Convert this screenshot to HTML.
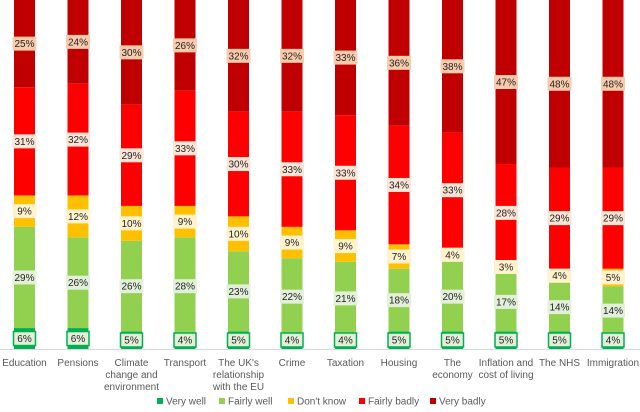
<!DOCTYPE html>
<html><head><meta charset="utf-8"><style>
body{margin:0;background:#fff;font-family:"Liberation Sans",sans-serif}
svg{display:block}
</style></head><body>
<svg id="chart" width="640" height="412"></svg>
<script>
const categories=[["Education"],["Pensions"],["Climate","change and","environment"],["Transport"],["The UK's","relationship","with the EU"],["Crime"],["Taxation"],["Housing"],["The","economy"],["Inflation and","cost of living"],["The NHS"],["Immigration"]];
const veryWell=[6,6,5,4,5,4,4,5,5,5,5,4];
const fairlyWell=[29,26,26,28,23,22,21,18,20,17,14,14];
const dontKnow=[9,12,10,9,10,9,9,7,4,3,4,5];
const fairlyBadly=[31,32,29,33,30,33,33,34,33,28,29,29];
const veryBadly=[25,24,30,26,32,32,33,36,38,47,48,48];
const seriesNames=["Very well","Fairly well","Don't know","Fairly badly","Very badly"];
const series=[veryWell,fairlyWell,dontKnow,fairlyBadly,veryBadly];
const colors=["#00b050","#92d050","#ffc000","#ff0000","#c00000"];
const labelFill=["#e2f0d9","#e2f0d9","#fff2cc","#fbe5d6","#f8cbad"];
const svg=document.getElementById('chart');
const NS="http://www.w3.org/2000/svg";
const baseY=349, plotH=349, x0=24.5, step=53.5, bw=21;
function xPos(i){return x0+i*step;}
function yScale(v){return baseY-v/100*plotH;}
function mk(t,a){const e=document.createElementNS(NS,t);for(const k in a)e.setAttribute(k,a[k]);svg.appendChild(e);return e;}
const labels=[];
categories.forEach((c,i)=>{
  let cum=0;
  series.forEach((s,j)=>{
    const v=s[i];
    const y1=yScale(cum+v), y0=yScale(cum);
    const r=mk('rect',{x:xPos(i)-bw/2,y:y1,width:bw,height:y0-y1,fill:colors[j]});
    
    
    labels.push({i,j,v,cy:(y0+y1)/2,y0});
    cum+=v;
  });
  c.forEach((line,k)=>{
    const t=mk('text',{x:xPos(i),y:366+k*12,'text-anchor':'middle','font-size':'10',fill:'#595959'});
    t.textContent=line;
    
    
  });
});
labels.forEach(L=>{
  let cy=L.cy;
  if(L.j===0) cy=Math.min(L.y0-9,cy);
  const w=24,h=14;
  const attrs={x:xPos(L.i)-w/2,y:cy-h/2,width:w,height:h,fill:labelFill[L.j]};
  if(L.j===0){attrs.stroke='#00b050';attrs['stroke-width']=1.5;attrs.x=xPos(L.i)-11;attrs.width=22;}
  const b=mk('rect',attrs);
  
  
  const t=mk('text',{x:xPos(L.i),y:cy+3.5,'text-anchor':'middle','font-size':'10',fill:'#1f1f1f'});
  t.textContent=L.v+'%';
  
  
});
const ax=mk('line',{x1:0,x2:640,y1:baseY+0.5,y2:baseY+0.5,stroke:'#d9d9d9','stroke-width':1});


const legX=[157,219,288,359,430];
seriesNames.forEach((n,j)=>{
  const r=mk('rect',{x:legX[j],y:398,width:6,height:6,fill:colors[j]});
  
  
  const t=mk('text',{x:legX[j]+9,y:404.5,'font-size':'10',fill:'#595959'});
  t.textContent=n;
  
  
});
</script>
</body></html>
